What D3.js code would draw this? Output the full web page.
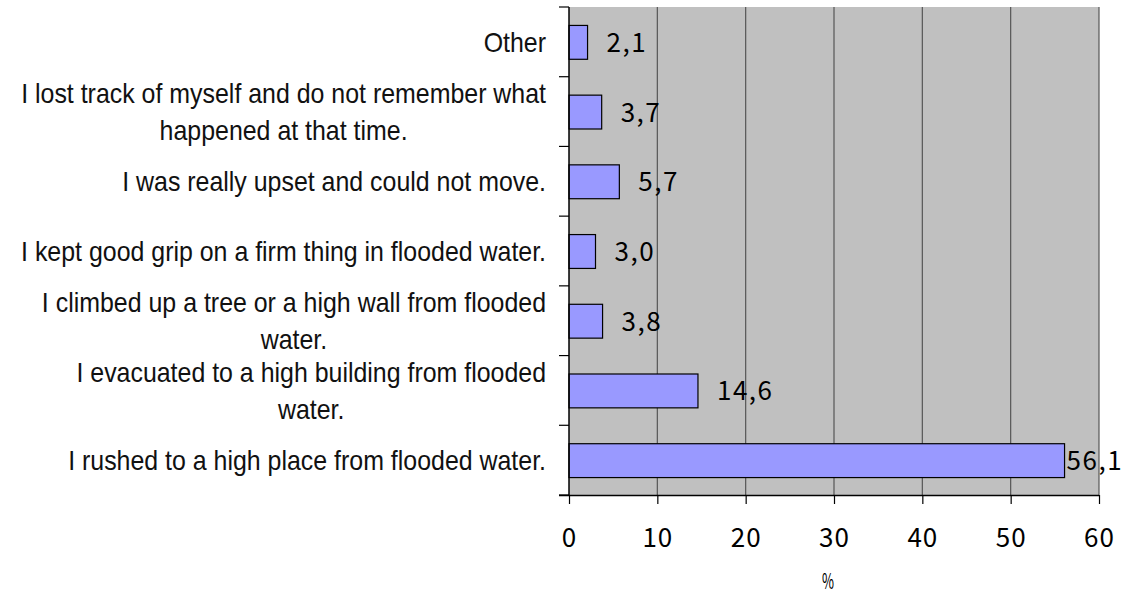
<!DOCTYPE html>
<html>
<head>
<meta charset="utf-8">
<script src="https://cdn.jsdelivr.net/npm/d3@7"></script>
<style>
  html, body { margin: 0; padding: 0; background: #fff; }
  svg { display: block; }
</style>
</head>
<body>
<svg id="chart" width="1127" height="598"></svg>
<script>
// ---- data ----
const categories = [
  ["Other"],
  ["I lost track of myself and do not remember what", "happened at that time."],
  ["I was really upset and could not move."],
  ["I kept good grip on a firm thing in flooded water."],
  ["I climbed up a tree or a high wall from flooded", "water."],
  ["I evacuated to a high building from flooded", "water."],
  ["I rushed to a high place from flooded water."]
];
const values = [2.1, 3.7, 5.7, 3.0, 3.8, 14.6, 56.1];
const valueLabels = ["2,1", "3,7", "5,7", "3,0", "3,8", "14,6", "56,1"];
const xTicks = [0, 10, 20, 30, 40, 50, 60];
const xTitle = "%";

// ---- layout ----
const W = 1127, H = 598;
const pLeft = 569, pRight = 1099, pTop = 7, pBottom = 495;
const svg = d3.select("#chart");

const x = d3.scaleLinear().domain([0, 60]).range([pLeft, pRight]);
const y = d3.scaleBand().domain(d3.range(categories.length)).range([pTop, pBottom])
  .paddingInner(0.5).paddingOuter(0.25);
const step = y.step();

// plot background
svg.append("rect").attr("x", pLeft).attr("y", pTop)
  .attr("width", pRight - pLeft).attr("height", pBottom - pTop)
  .attr("fill", "#c0c0c0");

// gridlines
svg.append("g").selectAll("line").data(xTicks.filter(d => d > 0)).join("line")
  .attr("x1", d => x(d)).attr("x2", d => x(d))
  .attr("y1", pTop).attr("y2", pBottom)
  .attr("stroke", "#555").attr("stroke-width", 1.2);

// bars
svg.append("g").selectAll("rect").data(values).join("rect")
  .attr("x", x(0))
  .attr("y", (d, i) => y(i) + 1)
  .attr("width", d => x(d) - x(0))
  .attr("height", y.bandwidth() - 1)
  .attr("fill", "#9999ff")
  .attr("stroke", "#000").attr("stroke-width", 1.2);

// x axis
const xAxis = d3.axisBottom(x).tickValues(xTicks).tickSize(9).tickPadding(0).tickFormat(d3.format("d"));
const gx = svg.append("g").attr("transform", `translate(0,${pBottom})`).call(xAxis);
gx.select(".domain").attr("stroke", "#000").attr("stroke-width", 1.5).attr("d", `M${pLeft - 10},0.5H${pRight}`);
gx.selectAll(".tick line").attr("stroke", "#000").attr("stroke-width", 1.2);
gx.selectAll(".tick text").attr("y", 52).attr("dy", null)
  .style("font-family", "'Noto Sans CJK JP', 'Noto Sans', sans-serif")
  .style("font-size", "26px").style("letter-spacing", "1px").attr("fill", "#000");

// y axis (band boundaries as ticks)
const boundaries = d3.range(categories.length + 1).map(i => pTop + i * step);
svg.append("line").attr("x1", pLeft).attr("x2", pLeft).attr("y1", pTop).attr("y2", pBottom)
  .attr("stroke", "#000").attr("stroke-width", 1.5);
svg.append("g").selectAll("line").data(boundaries).join("line")
  .attr("x1", pLeft - 10).attr("x2", pLeft).attr("y1", d => d).attr("y2", d => d)
  .attr("stroke", "#000").attr("stroke-width", 1.2);

// category labels: block right-aligned, lines centered within block, condensed
const labelRight = 546;
const lineGap = 37;
const squeeze = 0.89;
const lg = svg.append("g").style("font-family", "'Liberation Sans', Arial, sans-serif")
  .style("font-size", "28px").attr("fill", "#111");
categories.forEach((lines, i) => {
  const cy = y(i) + y.bandwidth() / 2;
  const g = lg.append("g").attr("transform", `translate(${labelRight},0) scale(${squeeze},1)`);
  const texts = lines.map((t, j) => g.append("text")
    .attr("y", cy + 10 + (j - (lines.length - 1) / 2) * lineGap)
    .text(t));
  const maxW = d3.max(texts, t => t.node().getComputedTextLength());
  texts.forEach(t => t.attr("text-anchor", "middle").attr("x", -maxW / 2));
});

// value labels
svg.append("g").selectAll("text").data(values).join("text")
  .style("font-family", "'Noto Sans CJK JP', 'Noto Sans', sans-serif")
  .style("font-size", "26px").style("letter-spacing", "1.5px").attr("fill", "#000")
  .attr("y", (d, i) => y(i) + y.bandwidth() / 2 + 10)
  .text((d, i) => valueLabels[i])
  .attr("x", function (d) {
    const w = this.getComputedTextLength();
    const gap = x(d) + 19 + w > W ? 2 : 19;
    return x(d) + gap;
  });

// x title
svg.append("text").attr("x", (pLeft + pRight) / 2 - 6).attr("y", 589)
  .attr("text-anchor", "middle")
  .style("font-family", "'Noto Sans CJK JP', 'Noto Sans', sans-serif")
  .style("font-size", "22px").attr("fill", "#000")
  .attr("textLength", 12).attr("lengthAdjust", "spacingAndGlyphs")
  .text(xTitle);
</script>
</body>
</html>
